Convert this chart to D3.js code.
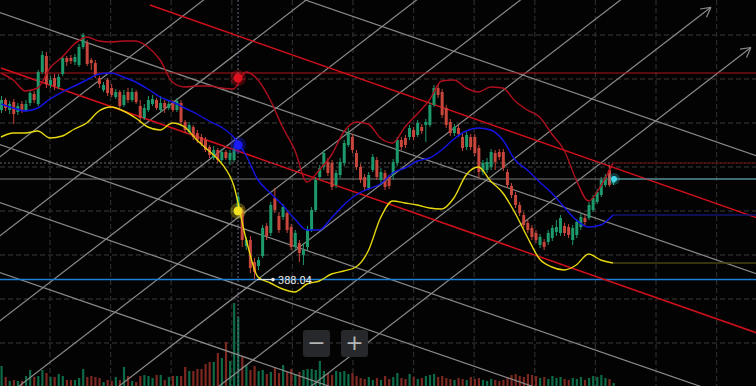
<!DOCTYPE html>
<html>
<head>
<meta charset="utf-8">
<style>
html, body { margin: 0; padding: 0; background: #030303; overflow: hidden; }
svg { display: block; }
</style>
</head>
<body>
<svg id="chart" width="756" height="386"></svg>
<script src="https://cdn.jsdelivr.net/npm/d3@7"></script>
<script>
// candles (price), one per bar
var opens = [405.0,406.0,405.0,405.8,404.8,405.6,405.0,405.7,406.6,405.6,
  408.8,410.4,407.5,408.2,407.3,408.6,410.2,410.2,409.8,409.5,
  411.3,411.7,410.0,409.7,408.2,407.0,408.0,407.2,406.3,406.8,
  405.5,406.8,406.0,406.8,405.4,404.2,405.0,405.6,406.0,405.0,
  405.7,405.2,405.7,405.0,405.7,403.8,402.8,403.3,402.7,402.3,
  402.0,401.3,400.2,401.0,400.0,400.8,400.0,400.0,395.0,395.0,
  391.4,392.0,389.8,389.4,390.4,393.4,392.7,396.2,394.4,394.3,
  394.7,393.3,391.3,391.7,390.5,391.3,393.0,395.0,398.3,399.3,
  399.8,399.7,397.5,398.5,399.7,401.5,402.3,400.7,399.3,398.3,
  397.2,399.0,400.0,398.0,398.7,398.2,398.5,399.7,402.0,402.2,
  402.3,403.0,402.5,403.3,403.5,403.5,405.5,407.2,406.8,405.2,
  403.8,402.7,403.2,402.3,401.3,402.3,402.3,401.2,398.8,399.0,
  399.3,400.7,400.8,400.8,398.8,397.4,396.5,395.5,394.5,393.7,
  393.2,392.7,391.5,391.8,391.8,392.2,392.8,392.7,393.4,393.3,
  392.0,392.5,393.3,394.2,394.2,395.0,395.8,396.5,397.5,399.0,397.7];
var closes = [406.0,405.2,405.6,404.6,405.4,404.9,405.6,406.7,406.0,408.8,
  410.5,407.6,408.0,407.4,408.3,410.2,409.8,409.9,410.3,411.3,
  412.5,409.6,409.7,408.5,407.6,407.5,406.7,406.5,406.8,405.4,
  406.5,406.0,406.8,405.8,404.2,405.2,406.0,406.1,405.2,405.7,
  405.2,405.6,405.0,405.9,403.8,403.0,403.5,402.3,402.0,401.6,
  401.0,400.5,401.0,400.0,400.8,400.2,400.7,401.0,396.3,392.0,
  392.0,389.2,388.8,390.0,393.2,392.4,395.5,395.0,393.0,395.3,
  393.0,391.3,392.7,390.7,391.0,393.0,395.0,398.0,399.2,400.7,
  398.7,397.3,398.7,399.8,401.7,402.7,401.0,399.3,398.0,397.3,
  398.5,400.3,398.3,398.8,397.3,397.4,399.8,402.0,401.3,401.5,
  403.2,402.3,403.7,402.9,403.8,405.5,407.2,406.5,404.5,403.5,
  402.7,403.3,402.6,401.2,402.5,401.3,400.7,398.8,399.7,399.8,
  400.8,399.8,400.3,399.2,397.5,396.5,395.5,394.7,393.5,393.0,
  392.3,392.0,392.3,391.3,392.7,393.2,393.3,394.2,392.7,392.5,
  393.2,393.8,394.3,393.8,395.5,396.2,396.8,398.0,398.3,397.5,398.1];
var highs = [406.4,406.2,405.9,406.1,405.7,405.9,406.0,407.0,406.9,409.0,
  410.9,410.8,408.4,408.6,408.6,410.4,410.4,410.5,410.6,411.6,
  412.7,412.0,410.2,410.0,408.4,407.8,408.2,407.6,407.1,407.0,
  407.0,407.2,407.2,407.0,406.0,405.6,406.4,406.5,406.2,406.4,
  406.0,405.9,406.0,406.2,406.0,404.0,403.8,403.5,403.0,402.6,
  402.3,401.5,401.4,401.2,401.1,401.0,401.0,401.3,396.7,395.3,
  392.3,392.4,390.2,390.3,393.5,393.7,395.8,397.2,394.8,395.6,
  395.0,393.6,393.0,392.0,391.7,393.4,395.3,398.3,399.5,401.0,
  400.2,400.0,399.0,400.2,402.0,403.2,402.6,401.0,399.6,398.6,
  398.8,400.6,400.3,399.2,399.0,398.5,400.1,402.3,402.3,402.5,
  403.5,403.3,404.0,403.6,404.1,405.8,407.5,407.5,407.1,405.5,
  404.1,403.6,403.5,402.6,402.8,402.6,402.6,401.5,400.0,400.2,
  401.1,401.0,401.1,401.1,399.1,397.7,396.8,395.8,394.8,394.0,
  393.5,393.0,392.6,392.1,393.0,393.5,394.0,394.5,393.7,393.6,
  393.5,394.1,394.6,394.5,395.8,396.5,397.1,398.3,398.6,399.5,398.4];
var lows = [404.7,404.9,404.6,403.6,404.5,404.7,404.8,405.4,405.7,405.4,
  408.6,407.2,407.2,407.0,407.1,408.4,409.4,409.6,409.5,409.3,
  411.1,409.4,409.0,408.2,407.2,406.8,406.4,406.3,406.1,405.2,
  405.3,405.7,405.8,405.6,403.7,404.0,404.8,405.4,405.0,404.8,
  404.7,405.0,404.8,404.8,403.6,402.7,402.6,402.0,401.7,401.4,
  400.8,400.2,400.0,399.7,399.8,400.0,399.5,399.8,394.6,391.3,
  391.0,388.7,388.04,389.0,390.2,392.0,392.4,394.7,392.7,394.0,
  392.7,391.0,391.0,389.8,389.5,391.0,392.8,394.8,398.0,399.0,
  398.4,397.0,397.2,398.2,399.4,401.3,400.7,399.0,397.7,397.0,
  397.0,398.8,398.0,397.5,397.0,397.1,398.0,399.4,401.0,401.2,
  402.0,402.0,402.3,402.6,401.8,403.3,405.3,406.2,404.2,403.2,
  402.4,402.4,402.3,400.9,401.0,401.0,400.4,398.2,398.5,398.7,
  399.0,399.0,400.0,398.9,397.2,396.2,395.2,394.4,393.2,392.7,
  392.0,391.7,391.2,391.0,391.5,391.9,392.4,392.4,392.4,392.2,
  391.5,392.2,393.0,393.5,394.0,394.8,395.6,396.3,397.3,397.3,397.5];
var volumes = [20,9,5,6,5,5,10,16,9,10,16,13,9,9,12,10,6,6,6,8,
  17,9,10,9,8,4,6,5,9,6,19,10,5,4,10,11,10,8,11,11,
  6,9,10,10,10,19,15,15,17,17,22,24,24,33,28,44,25,83,69,30,
  21,16,20,15,16,12,14,18,13,21,14,17,12,14,16,17,17,16,25,15,
  13,11,15,14,15,12,13,10,8,7,9,6,8,6,10,7,9,13,8,7,
  12,9,7,8,10,11,12,9,10,8,7,6,8,7,6,9,7,8,6,5,
  7,6,5,6,9,11,12,10,9,12,11,10,8,9,7,10,8,9,7,6,
  8,7,9,6,8,10,9,11,8,7,3];

// bollinger bands, read every third bar
var bandIndex = [0,3,6,9,12,15,18,21,24,27,30,33,36,39,42,45,48,51,54,57,
  60,63,66,69,72,75,78,81,84,87,90,93,96,99,102,105,108,111,114,117,
  120,123,126,129,132,135,138,141,144,147,150];
var upperBand = [408.7,408.0,406.9,407.2,409.2,410.3,411.6,412.3,411.9,411.8,
  411.9,411.9,411.3,410.0,407.8,407.3,407.4,407.4,407.2,407.1,
  408.8,408.0,406.0,403.3,401.0,397.8,399.0,400.5,402.8,403.8,
  403.6,402.2,401.7,403.3,404.6,406.0,407.9,408.0,407.2,406.8,
  407.3,407.2,405.9,405.0,404.3,402.6,401.0,398.0,395.9,397.4,399.7];
var middleBand = [405.6,405.2,404.9,405.2,406.1,406.8,407.4,408.0,408.6,408.7,
  408.3,407.8,407.1,406.3,405.8,405.2,404.6,403.9,403.3,402.3,
  400.5,398.0,396.7,395.5,394.1,393.0,393.0,394.2,395.5,396.5,
  397.1,397.6,398.7,399.2,399.9,400.2,401.0,402.1,402.9,403.2,
  403.0,402.0,400.0,399.0,397.8,396.7,395.3,394.0,393.3,393.5,394.5];
var lowerBand = [402.3,402.7,402.7,402.9,402.2,402.4,403.1,403.7,404.9,405.3,
  404.9,404.2,403.3,403.0,403.7,403.3,402.0,400.9,399.7,397.5,
  392.2,388.3,387.7,387.1,386.8,387.6,387.9,388.6,388.9,389.3,
  390.9,394.2,395.9,395.7,395.5,395.2,395.1,396.2,398.5,399.3,
  397.9,396.7,394.7,392.3,390.1,389.3,389.0,389.5,390.6,390.0,389.7];

// crosshair readout
var crossIndex = 58.1, crossPrice = 399.7;
var crossValues = [408.2, 401.5, 394.9];

// drawings: horizontal levels, channel, grid of sloped lines
var levelRed = 408.7, levelBlue = 388.04;
var channelStart = [36.5, 0], channelPrice = [415.5, 409.2], channelSlope = -0.143;
var downPrices = [426.5, 414.7, 401.5, 395.7, 388.7], downSlope = -0.1408;
var upPrices = [400.4, 392.5, 384.0, 376.0, 368.3, 360.6, 353.5], upSlope = 0.3142;
var upEnds = [null, null, null, null, null, 174, 183.8];

var width = 756, height = 386;
var svg = d3.select("#chart");
var x = d3.scaleLinear().domain([0, 150]).range([1, 613]);
var y = d3.scaleLinear().domain([416, 377.4]).range([0, height]);
var yv = d3.scaleLinear().domain([0, 100]).range([height, height - 100]);

var GREEN = "#1d9a6c", RED = "#c8463b";

svg.append("rect").attr("width", width).attr("height", height).attr("fill", "#030303");

// dashed grid
var grid = svg.append("g").attr("stroke", "#2a2a2a").attr("stroke-width", 1.3).attr("stroke-dasharray", "5,3");
d3.range(50, width, 60.6).forEach(function(gx){
  grid.append("line").attr("x1", gx).attr("x2", gx).attr("y1", 0).attr("y2", height);
});
d3.range(35, height, 44).forEach(function(gy){
  grid.append("line").attr("x1", 0).attr("x2", width).attr("y1", gy).attr("y2", gy);
});

// volume
svg.append("g").selectAll("rect").data(volumes).enter().append("rect")
  .attr("x", function(d, i){ return x(i) - 0.5; })
  .attr("width", 2.2)
  .attr("y", function(d){ return yv(d); })
  .attr("height", function(d){ return height - yv(d); })
  .attr("fill", function(d, i){ return closes[i] >= opens[i] ? "#0c6b46" : "#7c2820"; });

// sloped gray lines
var gl = svg.append("g").attr("stroke", "#8a8a8a").attr("stroke-width", 1.2).attr("fill", "none");
downPrices.forEach(function(p){
  gl.append("line").attr("x1", x(-5)).attr("y1", y(p - 5 * downSlope))
    .attr("x2", x(200)).attr("y2", y(p + 200 * downSlope));
});
upPrices.forEach(function(p, k){
  var end = upEnds[k] === null ? 220 : upEnds[k];
  var x2 = x(end), y2 = y(p + end * upSlope);
  gl.append("line").attr("x1", x(-10)).attr("y1", y(p - 10 * upSlope)).attr("x2", x2).attr("y2", y2);
  if (upEnds[k] !== null) {
    var ang = Math.atan2(y2 - y(p), x2 - x(0));
    [-0.5, 0.5].forEach(function(da){
      gl.append("line").attr("x1", x2).attr("y1", y2)
        .attr("x2", x2 - 11 * Math.cos(ang + da)).attr("y2", y2 - 11 * Math.sin(ang + da));
    });
  }
});

// horizontal levels
var last = closes.length - 1;
svg.append("line").attr("x1", 0).attr("x2", width).attr("y1", y(closes[last])).attr("y2", y(closes[last]))
  .attr("stroke", "#7a7a7a").attr("stroke-width", 1);
svg.append("line").attr("x1", 0).attr("x2", width).attr("y1", y(levelRed)).attr("y2", y(levelRed))
  .attr("stroke", "#b01218").attr("stroke-width", 1);
svg.append("line").attr("x1", 0).attr("x2", width).attr("y1", y(levelBlue)).attr("y2", y(levelBlue))
  .attr("stroke", "#1e7fd8").attr("stroke-width", 1.5);

// red channel
channelStart.forEach(function(s, k){
  svg.append("line").attr("x1", x(s)).attr("y1", y(channelPrice[k]))
    .attr("x2", x(200)).attr("y2", y(channelPrice[k] + (200 - s) * channelSlope))
    .attr("stroke", "#d0101a").attr("stroke-width", 1.5);
});

// crosshair
svg.append("line").attr("x1", x(crossIndex)).attr("x2", x(crossIndex)).attr("y1", 0).attr("y2", height)
  .attr("stroke", "#6a6a80").attr("stroke-width", 1).attr("stroke-dasharray", "2,2");
svg.append("line").attr("x1", 0).attr("x2", width).attr("y1", y(crossPrice)).attr("y2", y(crossPrice))
  .attr("stroke", "#6a6a6a").attr("stroke-width", 1).attr("stroke-dasharray", "2,2");

// candles
var candles = svg.append("g");
opens.forEach(function(o, i){
  var c = closes[i], col = c >= o ? GREEN : RED, cx = x(i);
  candles.append("line").attr("x1", cx + 0.5).attr("x2", cx + 0.5).attr("y1", y(highs[i])).attr("y2", y(lows[i]))
    .attr("stroke", col).attr("stroke-width", 1);
  candles.append("rect").attr("x", cx - 1).attr("width", 3)
    .attr("y", y(Math.max(o, c))).attr("height", Math.max(1, Math.abs(y(o) - y(c))))
    .attr("fill", col);
});

// bands
var bandLine = d3.line().x(function(d){ return x(d[0]); }).y(function(d){ return y(d[1]); }).curve(d3.curveMonotoneX);
var bands = [[upperBand, "#b0101e", "#4a0c0e"], [middleBand, "#1414e6", "#141470"], [lowerBand, "#e8d810", "#4a4512"]];
bands.forEach(function(b){
  var pts = bandIndex.map(function(bi, k){ return [bi, b[0][k]]; });
  var lv = b[0][b[0].length - 1];
  svg.append("line").attr("x1", x(150)).attr("x2", width).attr("y1", y(lv)).attr("y2", y(lv))
    .attr("stroke", b[2]).attr("stroke-width", 1.5);
  svg.append("path").attr("d", bandLine(pts)).attr("fill", "none").attr("stroke", b[1]).attr("stroke-width", 1.4);
});

// last price line and dot
svg.append("line").attr("x1", x(last) + 2).attr("x2", width).attr("y1", y(closes[last])).attr("y2", y(closes[last]))
  .attr("stroke", "#3f9aa8").attr("stroke-width", 1);
svg.append("circle").attr("cx", x(last) + 1).attr("cy", y(closes[last])).attr("r", 6).attr("fill", "#40d8e8").attr("opacity", 0.25);
svg.append("circle").attr("cx", x(last) + 1).attr("cy", y(closes[last])).attr("r", 3).attr("fill", "#40d8e8");

// crosshair dots
var dotCols = ["#e0101e", "#1a1aff", "#f0e020"];
crossValues.forEach(function(v, k){
  svg.append("circle").attr("cx", x(crossIndex)).attr("cy", y(v)).attr("r", 8).attr("fill", dotCols[k]).attr("opacity", 0.3);
  svg.append("circle").attr("cx", x(crossIndex)).attr("cy", y(v)).attr("r", 4.5).attr("fill", dotCols[k]);
});

// min marker
var minIdx = d3.minIndex(lows);
var mx = x(minIdx) + 3, my = y(lows[minIdx]);
svg.append("line").attr("x1", mx).attr("x2", mx + 16).attr("y1", my).attr("y2", my).attr("stroke", "#e8e8e8").attr("stroke-width", 1);
svg.append("circle").attr("cx", mx + 16).attr("cy", my).attr("r", 1.8).attr("fill", "#e8e8e8");
svg.append("text").attr("x", mx + 21).attr("y", my + 4).attr("fill", "#e8e8e8")
  .style("font", "11px Roboto, sans-serif").text(lows[minIdx].toFixed(2));

// zoom buttons
[["\u2212", 303], ["+", 341]].forEach(function(b){
  svg.append("rect").attr("x", b[1]).attr("y", 330).attr("width", 27).attr("height", 27).attr("rx", 3).attr("fill", "#27282c");
  svg.append("text").attr("x", b[1] + 13.5).attr("y", 350).attr("text-anchor", "middle")
    .attr("fill", "#b4b4b4").style("font", "22px 'DejaVu Sans', sans-serif").text(b[0]);
});
</script>
</body>
</html>
